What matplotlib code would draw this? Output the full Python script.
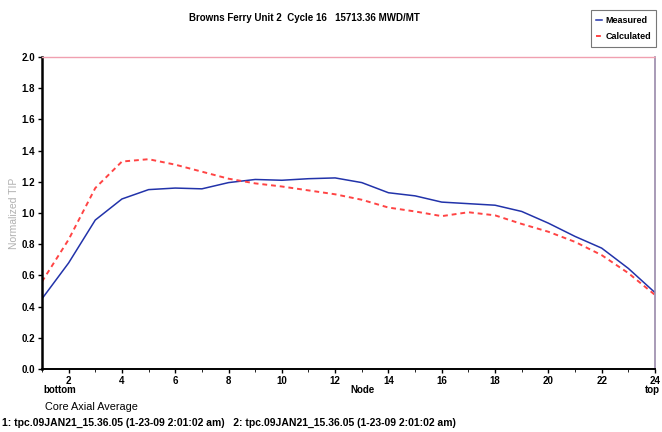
import numpy as np
import matplotlib.pyplot as plt

nodes = list(range(1, 25))
measured = [0.45, 0.68, 0.955, 1.09, 1.15, 1.16, 1.155, 1.195, 1.215, 1.21, 1.22, 1.225,
            1.195, 1.13, 1.11, 1.07, 1.06, 1.05, 1.01, 0.935, 0.85, 0.775, 0.645, 0.49]
calculated = [0.56, 0.83, 1.16, 1.33, 1.345, 1.31, 1.265, 1.22, 1.19, 1.17, 1.145, 1.12,
              1.085, 1.035, 1.01, 0.98, 1.005, 0.985, 0.93, 0.88, 0.815, 0.73, 0.615, 0.475]

title = 'Browns Ferry Unit 2  Cycle 16   15713.36 MWD/MT'
footer = '1: tpc.09JAN21_15.36.05 (1-23-09 2:01:02 am)   2: tpc.09JAN21_15.36.05 (1-23-09 2:01:02 am)'

plt.rcParams['font.family'] = ['Liberation Sans', 'DejaVu Sans']
plt.rcParams['font.weight'] = 'bold'

fig = plt.figure(figsize=(6.62, 4.32), dpi=100)
ax = fig.add_axes([0.0634, 0.1458, 0.926, 0.7222])

ax.plot(nodes, measured, color='#2233aa', lw=1.1, label='Measured')
ax.plot(nodes, calculated, color='#ff4444', lw=1.4, ls=(0, (2.5, 2)), label='Calculated')

ax.set_xlim(1, 24)
ax.set_ylim(0, 2.0)
ax.set_xticks(range(2, 25, 2))
ax.set_xticks(range(1, 25), minor=True)
ax.set_yticks(np.arange(0, 2.01, 0.2))
ax.set_yticklabels(['%.1f' % v for v in np.arange(0, 2.01, 0.2)])
ax.tick_params(axis='both', labelsize=7, length=3, width=1, pad=2)
ax.tick_params(axis='x', which='minor', length=2)

ax.spines['left'].set_linewidth(1.8)
ax.spines['bottom'].set_linewidth(1.4)
ax.spines['right'].set_color('#9a8aaa')
ax.spines['right'].set_linewidth(1.2)
ax.spines['top'].set_color('#f0a0b0')
ax.spines['top'].set_linestyle((0, (1, 1)))
ax.spines['top'].set_linewidth(1.0)

ax.set_ylabel('Normalized TIP', fontsize=7.5, color='#b0b0b0', fontweight='normal', labelpad=2)

fig.text(0.46, 0.958, title, ha='center', va='center', fontsize=7)
fig.text(0.548, 0.097, 'Node', ha='center', va='center', fontsize=7)
fig.text(0.065, 0.097, 'bottom', ha='left', va='center', fontsize=7)
fig.text(0.986, 0.097, 'top', ha='center', va='center', fontsize=7)
fig.text(0.068, 0.058, 'Core Axial Average', ha='left', va='center', fontsize=7.8, fontweight='normal')
fig.text(0.003, 0.022, footer, ha='left', va='center', fontsize=7.5)

leg = fig.legend(loc='upper right', bbox_to_anchor=(0.994, 0.98), fontsize=6.5, frameon=True,
                 fancybox=False, edgecolor='#555555', handlelength=0.7, handletextpad=0.3,
                 borderpad=0.6, labelspacing=0.8, borderaxespad=0.2)
leg.get_frame().set_linewidth(0.8)

fig.savefig('out.png', dpi=100)
